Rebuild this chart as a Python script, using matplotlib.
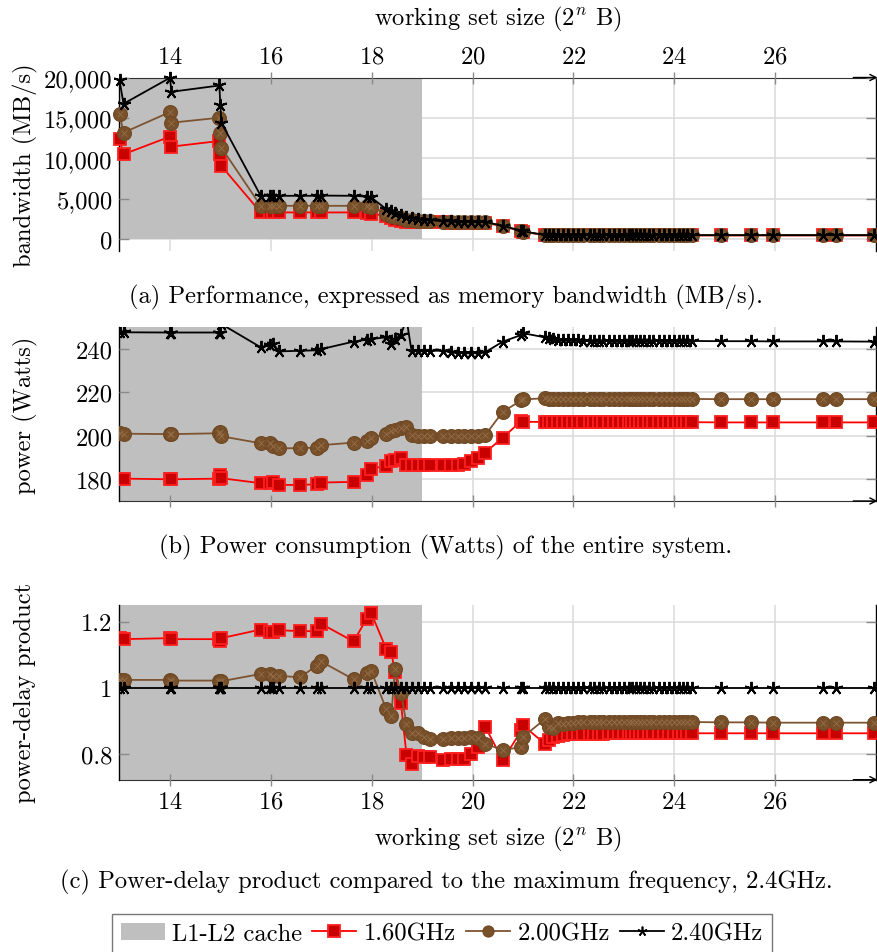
import matplotlib
matplotlib.use('Agg')
import matplotlib.pyplot as plt
from matplotlib.lines import Line2D
from matplotlib.patches import Patch

plt.rcParams['font.family'] = ['cmr10', 'DejaVu Serif']
plt.rcParams['mathtext.fontset'] = 'cm'
plt.rcParams['axes.formatter.use_mathtext'] = True
plt.rcParams['font.size'] = 17.7
plt.rcParams['axes.unicode_minus'] = False

# ---------------- data ----------------
# working set size exponents (2^n bytes)
x = [13.0, 13.08, 14.0, 14.03, 14.98, 15.0, 15.02, 15.8, 15.98, 16.04,
     16.17, 16.58, 16.91, 16.99, 17.64, 17.9, 17.99, 18.29, 18.39, 18.46,
     18.58, 18.69, 18.79, 18.91, 19.04, 19.15, 19.41, 19.58, 19.71, 19.84,
     19.97, 20.1, 20.25, 20.6, 20.97, 21.0, 21.43, 21.52, 21.6, 21.7,
     21.8, 21.9, 22.0, 22.1, 22.2, 22.32, 22.4, 22.5, 22.58, 22.7,
     22.8, 22.9, 23.0, 23.1, 23.17, 23.25, 23.32, 23.4, 23.5, 23.58,
     23.7, 23.8, 23.9, 24.0, 24.1, 24.17, 24.25, 24.36, 24.92, 25.52,
     25.95, 26.94, 27.2, 27.97]

# bandwidth (MB/s)
bw_16 = [12350, 10490, 12680, 11440, 12140, 10490, 9050, 3290, 3290, 3290,
         3290, 3290, 3290, 3290, 3290, 3200, 3150, 2850, 2650, 2400,
         2250, 2150, 2100, 2080, 2060, 2050, 2050, 2040, 2040, 2040,
         2030, 2030, 2000, 1600, 950, 900, 470, 460, 455, 450,
         450, 445, 445, 445, 440, 440, 440, 440, 440, 440,
         440, 440, 440, 440, 440, 440, 440, 440, 440, 440,
         440, 440, 440, 440, 440, 440, 440, 440, 440, 440,
         440, 440, 440, 440]
bw_20 = [15520, 13170, 15720, 14400, 15020, 13170, 11320, 4110, 4110, 4110,
         4110, 4110, 4110, 4110, 4110, 4050, 4000, 3100, 2900, 2700,
         2550, 2400, 2300, 2250, 2200, 2180, 2120, 2110, 2100, 2100,
         2100, 2100, 2060, 1620, 980, 920, 490, 480, 475, 470,
         470, 465, 465, 465, 460, 460, 460, 460, 460, 460,
         460, 460, 460, 460, 460, 460, 460, 460, 460, 460,
         460, 460, 460, 460, 460, 460, 460, 460, 460, 460,
         460, 460, 460, 460]
bw_24 = [19670, 16750, 19960, 18230, 19010, 16580, 14400, 5350, 5380, 5350,
         5350, 5350, 5350, 5380, 5350, 5250, 5150, 3700, 3500, 3250,
         2950, 2700, 2550, 2450, 2400, 2350, 2200, 2180, 2160, 2160,
         2150, 2150, 2100, 1650, 1000, 950, 510, 500, 495, 490,
         490, 485, 485, 485, 480, 480, 480, 480, 480, 480,
         480, 480, 480, 480, 480, 480, 480, 480, 480, 480,
         480, 480, 480, 480, 480, 480, 480, 480, 480, 480,
         480, 480, 480, 480]

# power (Watts)
pw_16 = [180.3, 180.3, 180.0, 180.0, 180.3, 181.8, 180.5, 178.2, 178.5, 178.8,
         177.4, 177.4, 177.7, 178.5, 178.8, 181.8, 184.9, 186.1, 188.4, 189.0,
         190.0, 186.5, 186.5, 186.5, 186.5, 186.5, 186.5, 186.5, 186.5, 187.0,
         188.5, 189.6, 192.3, 199.2, 206.9, 206.5, 206.4, 206.4, 206.3, 206.3,
         206.3, 206.3, 206.3, 206.3, 206.3, 206.3, 206.3, 206.3, 206.3, 206.3,
         206.3, 206.3, 206.3, 206.3, 206.3, 206.3, 206.3, 206.3, 206.3, 206.3,
         206.3, 206.3, 206.3, 206.3, 206.3, 206.3, 206.3, 206.3, 206.2, 206.2,
         206.2, 206.2, 206.2, 206.2]
pw_20 = [201.2, 201.0, 200.8, 200.8, 201.2, 202.0, 199.8, 196.6, 196.8, 195.5,
         194.3, 194.3, 194.6, 195.7, 196.9, 197.7, 199.2, 200.8, 202.3, 202.8,
         203.4, 204.3, 200.3, 200.0, 200.0, 199.8, 200.0, 200.0, 200.0, 200.0,
         200.0, 200.0, 200.3, 211.1, 216.4, 216.8, 217.3, 217.2, 217.2, 217.1,
         217.1, 217.1, 217.1, 217.0, 217.0, 217.0, 217.0, 217.0, 217.0, 217.0,
         217.0, 217.0, 217.0, 217.0, 217.0, 217.0, 217.0, 217.0, 217.0, 217.0,
         217.0, 217.0, 217.0, 217.0, 217.0, 217.0, 217.0, 217.0, 216.9, 216.9,
         216.9, 216.9, 216.9, 216.9]
pw_24 = [247.7, 247.7, 247.6, 247.6, 247.6, 247.4, 251.5, 240.8, 241.8, 242.3,
         238.9, 239.2, 239.4, 239.9, 243.4, 244.3, 244.6, 245.4, 242.3, 244.5,
         246.5, 254.0, 239.2, 239.2, 239.2, 239.2, 239.2, 238.5, 238.2, 238.0,
         238.0, 238.0, 238.5, 243.4, 246.5, 247.3, 245.4, 244.9, 244.6, 244.3,
         244.2, 244.1, 244.0, 244.0, 243.9, 243.9, 243.9, 243.9, 243.8, 243.8,
         243.8, 243.8, 243.8, 243.8, 243.8, 243.8, 243.8, 243.8, 243.7, 243.7,
         243.7, 243.7, 243.7, 243.7, 243.7, 243.7, 243.7, 243.7, 243.6, 243.6,
         243.5, 243.5, 243.5, 243.4]

# power-delay product relative to 2.4 GHz
pdp_16 = [1.150, 1.147, 1.150, 1.147, 1.147, 1.142, 1.150, 1.176, 1.169, 1.169,
          1.174, 1.171, 1.171, 1.194, 1.140, 1.208, 1.226, 1.117, 1.107, 1.049,
          0.955, 0.799, 0.769, 0.794, 0.792, 0.790, 0.782, 0.784, 0.784, 0.786,
          0.800, 0.822, 0.883, 0.782, 0.872, 0.887, 0.832, 0.842, 0.852, 0.856,
          0.858, 0.860, 0.861, 0.862, 0.862, 0.862, 0.862, 0.862, 0.862, 0.863,
          0.863, 0.863, 0.863, 0.863, 0.863, 0.863, 0.863, 0.863, 0.863, 0.863,
          0.863, 0.863, 0.863, 0.863, 0.863, 0.863, 0.863, 0.863, 0.863, 0.863,
          0.863, 0.863, 0.863, 0.863]
pdp_20 = [1.024, 1.024, 1.024, 1.022, 1.022, 1.016, 1.020, 1.042, 1.042, 1.036,
          1.036, 1.032, 1.067, 1.080, 1.026, 1.046, 1.052, 0.935, 0.915, 1.057,
          0.986, 0.891, 0.863, 0.865, 0.852, 0.847, 0.847, 0.850, 0.850, 0.850,
          0.852, 0.850, 0.832, 0.812, 0.822, 0.852, 0.905, 0.883, 0.878, 0.893,
          0.890, 0.893, 0.895, 0.896, 0.897, 0.897, 0.897, 0.897, 0.897, 0.897,
          0.897, 0.897, 0.897, 0.897, 0.897, 0.897, 0.897, 0.897, 0.897, 0.897,
          0.897, 0.897, 0.897, 0.897, 0.897, 0.897, 0.897, 0.897, 0.896, 0.896,
          0.895, 0.895, 0.895, 0.895]
pdp_24 = [1.0, 1.0, 1.0, 1.0, 1.0, 1.0, 1.0, 1.0, 1.0, 1.0,
          1.0, 1.0, 1.0, 1.0, 1.0, 1.0, 1.0, 1.0, 1.0, 1.0,
          1.0, 1.0, 1.0, 1.0, 1.0, 1.0, 1.0, 1.0, 1.0, 1.0,
          1.0, 1.0, 1.0, 1.0, 1.0, 1.0, 1.0, 1.0, 1.0, 1.0,
          1.0, 1.0, 1.0, 1.0, 1.0, 1.0, 1.0, 1.0, 1.0, 1.0,
          1.0, 1.0, 1.0, 1.0, 1.0, 1.0, 1.0, 1.0, 1.0, 1.0,
          1.0, 1.0, 1.0, 1.0, 1.0, 1.0, 1.0, 1.0, 1.0, 1.0,
          1.0, 1.0, 1.0, 1.0]

cache_range = [13, 19]
x_ticks = [14, 16, 18, 20, 22, 24, 26]
bw_ticks = [0, 5000, 10000, 15000, 20000]
bw_tick_labels = ['0', '5,000', '10,000', '15,000', '20,000']
pw_ticks = [180, 200, 220, 240]
pdp_ticks = [0.8, 1.0, 1.2]
pdp_tick_labels = ['0.8', '1', '1.2']
series_labels = ['L1-L2 cache', '1.60GHz', '2.00GHz', '2.40GHz']

# ---------------- styling ----------------
RED = '#ff0000'
RED_FACE = '#c80000'
BROWN = '#7d5330'
BROWN_FACE = '#78502a'
GRAYFILL = '#bfbfbf'
GRID = '#dadada'
TICKC = '#8a8a8a'
STAR = (5, 2, 0)

W, H = 878, 953
fig = plt.figure(figsize=(W / 100, H / 100), dpi=100)


def rect(top_px, bot_px):
    left, right = 119.5 / W, 876 / W
    return [left, 1 - bot_px / H, right - left, (bot_px - top_px) / H]


ax1 = fig.add_axes(rect(78.5, 252))
ax2 = fig.add_axes(rect(328.3, 502))
ax3 = fig.add_axes(rect(606, 780.7))


def draw(ax, y16, y20, y24, clip=True):
    ax.plot(x, y16, color=RED, lw=1.3, marker='s', ms=8.5, mfc=RED_FACE,
            mec='#ff2020', mew=1.3, zorder=3, clip_on=clip)
    ax.plot(x, y20, color=BROWN, lw=1.3, marker='o', ms=10, mfc=BROWN_FACE,
            mec='#6f4925', mew=0.8, zorder=4, clip_on=clip)
    ax.plot(x, y20, ls='none', marker='x', ms=4.5, mec='#967048', mew=0.6,
            zorder=4.1, clip_on=clip)
    ax.plot(x, y24, color='k', lw=1.3, marker=STAR, ms=9.5, mew=1.4,
            zorder=5, clip_on=clip)


def setup(ax, ylim, yticks, ylabels, x_pos):
    ax.set_xlim(13, 28)
    ax.set_ylim(*ylim)
    ax.set_axisbelow(False)
    for xv in x_ticks:
        ax.axvline(xv, color=GRID, lw=1.1, zorder=0.3)
    for yv in yticks:
        ax.axhline(yv, color=GRID, lw=1.1, zorder=0.3)
    ax.set_xticks(x_ticks)
    ax.set_yticks(yticks)
    ax.set_yticklabels(ylabels)
    ax.tick_params(axis='y', which='both', direction='in', left=True,
                   right=True, labelright=False, length=7, width=1,
                   color=TICKC, pad=5)
    ax.tick_params(axis='x', direction='inout', length=8, width=1,
                   color=TICKC)
    for s in ['left', 'right']:
        ax.spines[s].set_color('k')
        ax.spines[s].set_linewidth(1.0)
    if x_pos == 'top':
        ax.spines['bottom'].set_visible(False)
        ax.spines['top'].set_color('#333333')
        ax.xaxis.tick_top()
        ax.xaxis.set_label_position('top')
        yfrac = 1.0
    else:
        ax.spines['top'].set_visible(False)
        ax.spines['bottom'].set_color('#333333')
        yfrac = 0.0
    ax.annotate('', xy=(1.002, yfrac), xytext=(0.97, yfrac),
                xycoords='axes fraction', annotation_clip=False,
                arrowprops=dict(arrowstyle='->', color='k', lw=1.0,
                                shrinkA=0, shrinkB=0, mutation_scale=11))


# top panel
setup(ax1, (-1486, 20000), bw_ticks, bw_tick_labels, 'top')
ax1.fill_between(cache_range, 0, 20000, color=GRAYFILL, lw=0, zorder=0.6)
draw(ax1, bw_16, bw_20, bw_24, clip=False)
ax1.tick_params(axis='x', pad=3)
ax1.set_xlabel('working set size ($2^n$ B)', labelpad=15)

# middle panel
setup(ax2, (170, 250), pw_ticks, [str(v) for v in pw_ticks], 'bottom')
ax2.axvspan(cache_range[0], cache_range[1], color=GRAYFILL, lw=0, zorder=0.6)
draw(ax2, pw_16, pw_20, pw_24)
ax2.tick_params(axis='x', labelbottom=False)

# bottom panel
setup(ax3, (0.723, 1.25), pdp_ticks, pdp_tick_labels, 'bottom')
ax3.axvspan(cache_range[0], cache_range[1], color=GRAYFILL, lw=0, zorder=0.6)
draw(ax3, pdp_16, pdp_20, pdp_24)
ax3.tick_params(axis='x', pad=4)
ax3.set_xlabel('working set size ($2^n$ B)', labelpad=8)

# y labels
fig.text(25 / W, 1 - 165 / H, 'bandwidth (MB/s)', rotation=90,
         ha='center', va='center')
fig.text(25 / W, 1 - 415 / H, 'power (Watts)', rotation=90,
         ha='center', va='center')
fig.text(25 / W, 1 - 693 / H, 'power-delay product', rotation=90,
         ha='center', va='center')

# captions
fig.text(446 / W, 1 - 297 / H,
         '(a) Performance, expressed as memory bandwidth (MB/s).',
         ha='center', va='center')
fig.text(446 / W, 1 - 547 / H,
         '(b) Power consumption (Watts) of the entire system.',
         ha='center', va='center')
fig.text(446 / W, 1 - 882 / H,
         '(c) Power-delay product compared to the maximum frequency, 2.4GHz.',
         ha='center', va='center')

# legend
handles = [
    Patch(facecolor=GRAYFILL, edgecolor='none', label=series_labels[0]),
    Line2D([], [], color=RED, lw=1.3, marker='s', ms=8, mfc=RED_FACE,
           mec='#ff2020', mew=1.3, label=series_labels[1]),
    Line2D([], [], color=BROWN, lw=1.3, marker='o', ms=8, mfc=BROWN_FACE,
           mec='#6f4925', mew=0.8, label=series_labels[2]),
    Line2D([], [], color='k', lw=1.3, marker=STAR, ms=7, mew=1.2,
           label=series_labels[3]),
]
leg = fig.legend(handles=handles, loc='upper center',
                 bbox_to_anchor=(442 / W, 1 - 915 / H), ncol=4,
                 frameon=True, fancybox=False, edgecolor='#555555',
                 handlelength=1.8, handletextpad=0.3, columnspacing=0.4,
                 borderpad=0.35, borderaxespad=0)
leg.get_frame().set_linewidth(1.0)

fig.savefig('out.png', dpi=100)
